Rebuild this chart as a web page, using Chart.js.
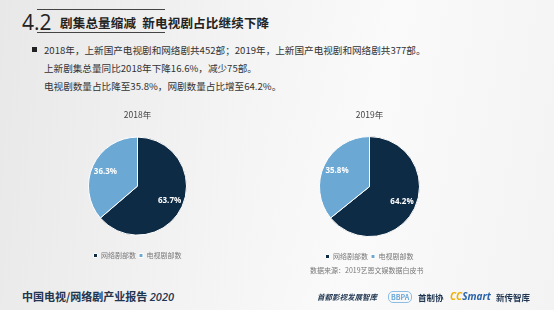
<!DOCTYPE html>
<html lang="zh">
<head>
<meta charset="utf-8">
<script src="https://cdn.jsdelivr.net/npm/chart.js@4.4.1/dist/chart.umd.min.js"></script>
<style>
  html, body { margin: 0; padding: 0; }
  body {
    width: 554px; height: 310px; position: relative; overflow: hidden;
    font-family: "Noto Sans CJK SC", "Noto Sans", sans-serif;
    background: linear-gradient(100deg, #e8e8e8 0%, #f2f2f2 35%, #fafafa 65%, #f3f3f3 100%);
  }
  .abs { position: absolute; white-space: nowrap; }
  .line { position: absolute; height: 1px; background: #444; }
  #num { left: 22px; top: 8px; font-size: 21px; color: #222; font-family: "Open Sans", sans-serif; }
  #head { left: 60px; top: 13px; font-size: 12.5px; font-weight: bold; color: #222; letter-spacing: 0.2px; }
  .txt { font-size: 9.6px; color: #333; }
  .sq { position: absolute; left: 32px; top: 47px; width: 5px; height: 5px; background: #222; }
  canvas { position: absolute; }
  #src { left: 310px; top: 265px; font-size: 7px; color: #777; }
  #foot { left: 22px; top: 288px; font-size: 11px; font-weight: bold; color: #1f3550; }
  #foot i { font-family: "Open Sans", sans-serif; font-weight: 600; }
  .logo { top: 291px; font-size: 8.5px; font-weight: bold; color: #1f3550; }
</style>
</head>
<body>
<div class="line" style="left:37px; top:9px; width:128px;"></div>
<div class="abs" id="num">4.2</div>
<div class="line" style="left:37px; top:32px; width:128px;"></div>
<div class="abs" id="head">剧集总量缩减&nbsp; 新电视剧占比继续下降</div>
<div class="sq"></div>
<div class="abs txt" style="left:44px; top:43px;">2018年，上新国产电视剧和网络剧共452部；2019年，上新国产电视剧和网络剧共377部。</div>
<div class="abs txt" style="left:44px; top:61px;">上新剧集总量同比2018年下降16.6%，减少75部。</div>
<div class="abs txt" style="left:44px; top:79px;">电视剧数量占比降至35.8%，网剧数量占比增至64.2%。</div>

<canvas id="pie2018" style="left:88px; top:104px;" width="99" height="165"></canvas>
<canvas id="pie2019" style="left:319px; top:104px;" width="101" height="166"></canvas>

<div class="abs" id="src">数据来源：2019艺恩文娱数据白皮书</div>
<div class="abs" id="foot">中国电视/网络剧产业报告 <i>2020</i></div>
<div class="abs logo" style="left:317px; font-style:italic; font-size:7.5px;">首都影视发展智库</div>
<div class="abs logo" style="left:388px; top:291px; font-size:7px; color:#6aa8d8; border:1px solid #8cbde3; border-radius:5px; padding:0 2px; line-height:10px;">BBPA</div>
<div class="abs logo" style="left:418px;">首制协</div>
<div class="abs logo" style="left:450px; top:289px; font-size:10px; font-style:italic; font-family:'Open Sans',sans-serif;"><span style="color:#f0b000;">CC</span><span style="color:#2a63a8;">Smart</span></div>
<div class="abs logo" style="left:496px;">新传智库</div>

<script>
// 数据
const seriesNames = ['网络剧部数', '电视剧部数'];
const yearTitles = ['2018年', '2019年'];
const share2018 = [63.7, 36.3];
const share2019 = [64.2, 35.8];

const sliceColors = ['#0e2b46', '#6ca8d4'];

// 在扇区内写百分比
const sliceLabels = {
    id: 'sliceLabels',
    afterDatasetsDraw(chart) {
        const ctx = chart.ctx;
        const meta = chart.getDatasetMeta(0);
        const values = chart.data.datasets[0].data;
        ctx.save();
        ctx.fillStyle = '#ffffff';
        ctx.font = 'bold 8px "Open Sans", sans-serif';
        ctx.textAlign = 'center';
        ctx.textBaseline = 'middle';
        meta.data.forEach((arc, i) => {
            const p = arc.getProps(['x', 'y', 'startAngle', 'endAngle', 'outerRadius'], true);
            const mid = (p.startAngle + p.endAngle) / 2;
            const r = p.outerRadius * 0.72;
            ctx.fillText(values[i].toFixed(1) + '%', p.x + Math.cos(mid) * r, p.y + Math.sin(mid) * r);
        });
        ctx.restore();
    }
};

function makePie(id, title, values) {
    const ctx = document.getElementById(id).getContext('2d');
    return new Chart(ctx, {
        type: 'pie',
        data: {
            labels: seriesNames,
            datasets: [{
                data: values,
                backgroundColor: sliceColors,
                borderColor: '#ffffff',
                borderWidth: 1
            }]
        },
        options: {
            responsive: false,
            animation: false,
            layout: { padding: 0 },
            plugins: {
                title: {
                    display: true,
                    text: title,
                    color: '#444',
                    font: { size: 8.5, family: '"Noto Sans CJK SC", sans-serif', weight: 'normal' },
                    padding: { top: 6, bottom: 3 }
                },
                legend: {
                    position: 'bottom',
                    labels: {
                        usePointStyle: true,
                        pointStyle: 'rect',
                        pointStyleWidth: 4,
                        boxHeight: 4,
                        padding: 3,
                        color: '#777',
                        font: { size: 7, family: '"Noto Sans CJK SC", sans-serif' }
                    }
                },
                tooltip: { enabled: false }
            }
        },
        plugins: [sliceLabels]
    });
}

makePie('pie2018', yearTitles[0], share2018);
makePie('pie2019', yearTitles[1], share2019);
</script>
</body>
</html>
